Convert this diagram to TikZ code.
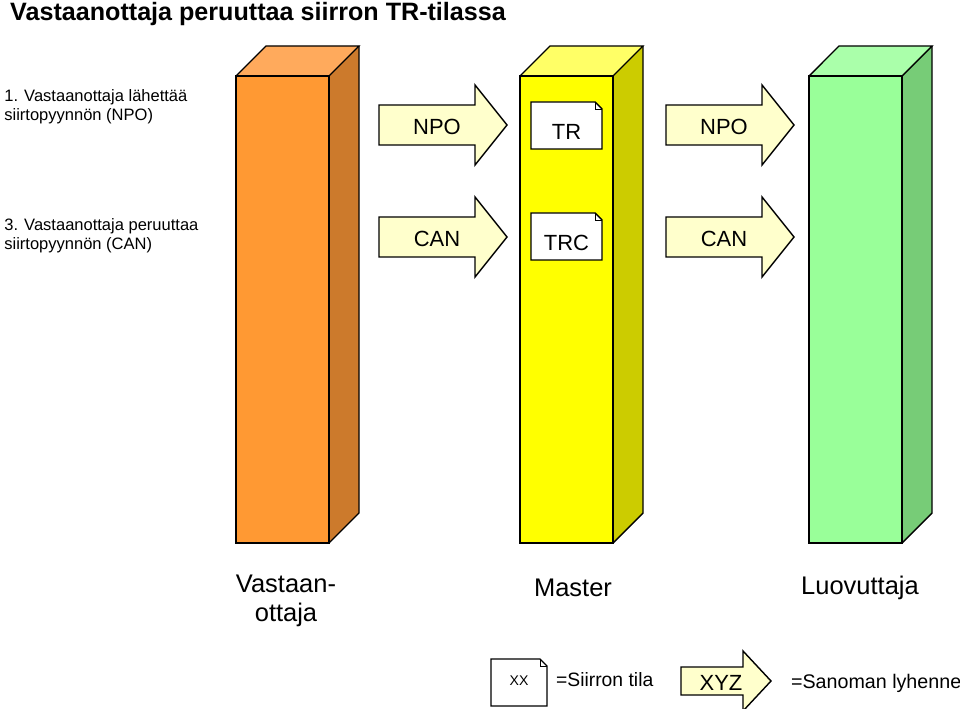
\documentclass[tikz,border=0pt]{standalone}
\usepackage{fontspec}
\setmainfont{Liberation Sans}
\definecolor{orfront}{HTML}{FF9933}
\definecolor{orside}{HTML}{CC7A2C}
\definecolor{ortop}{HTML}{FFAA5C}
\definecolor{yefront}{HTML}{FFFF00}
\definecolor{yeside}{HTML}{CCCC00}
\definecolor{yetop}{HTML}{FFFF66}
\definecolor{grfront}{HTML}{99FF99}
\definecolor{grside}{HTML}{77CC77}
\definecolor{grtop}{HTML}{AAFFAA}
\definecolor{arrfill}{HTML}{FFFFCC}
\tikzset{
  edge/.style={draw=black, line width=0.8pt, line join=miter},
  lbl/.style={font=\fontsize{12.5}{14}\selectfont},
  steptext/.style={anchor=north west, align=left, font=\fontsize{9.4}{10.9}\selectfont, inner sep=0pt},
  colname/.style={font=\fontsize{14.5}{16.5}\selectfont, align=center},
}
% column: #1 left x, #2 front, #3 side, #4 top
\newcommand{\column}[4]{
  \fill[#2] (#1,76) rectangle ++(93,467);
  \fill[#3] (#1+93,76) -- ++(30,-30) -- ++(0,467) -- ++(-30,30) -- cycle;
  \fill[#4] (#1,76) -- ++(30,-30) -- ++(93,0) -- ++(-30,30) -- cycle;
  \draw[edge] (#1,76) rectangle ++(93,467);
  \draw[edge] (#1,76) -- ++(30,-30) -- ++(93,0) -- ++(-30,30);
  \draw[edge] (#1+123,46) -- ++(0,467) -- ++(-30,30);
}
% arrow: #1 name, #2 start x, #3 centre y, #4 text
\newcommand{\msgarrow}[4]{
  \draw[edge, fill=arrfill] (#2,#3-20) -- ++(96,0) -- ++(0,-20) -- ++(32,40)
    -- ++(-32,40) -- ++(0,-20) -- ++(-96,0) -- cycle;
  \node[lbl] (#1) at (#2+58,#3+2) {#4};
}
% state box: #1 name, #2 left x, #3 top y, #4 width
\newcommand{\statebox}[4]{
  \draw[edge, fill=white] (#2,#3) -- ++(#4-7,0) -- ++(7,7) -- ++(0,40) -- ++(-#4,0) -- cycle;
  \draw[line width=0.5pt] (#2+#4-7,#3) -- ++(0,7) -- ++(7,0);
  \coordinate (#1) at (#2+#4/2,#3+25);
}
\begin{document}
\begin{tikzpicture}[x=0.02cm, y=-0.02cm]
  \useasboundingbox (0,0) rectangle (960,709);
  \node[anchor=west, font=\bfseries\fontsize{14.3}{16}\selectfont] (title) at (4,14) {Vastaanottaja peruuttaa siirron TR-tilassa};

  \column{236}{orfront}{orside}{ortop}
  \column{520}{yefront}{yeside}{yetop}
  \column{809}{grfront}{grside}{grtop}

  \node[steptext] (step1) at (4,89) {1. Vastaanottaja lähettää\\siirtopyynnön (NPO)};
  \node[steptext] (step3) at (4,218) {3. Vastaanottaja peruuttaa\\siirtopyynnön (CAN)};

  \msgarrow{npoin}{379}{125}{NPO}
  \msgarrow{npoout}{666}{125}{NPO}
  \msgarrow{canin}{379}{237}{CAN}
  \msgarrow{canout}{666}{237}{CAN}

  \statebox{tr}{531}{102}{71}
  \node[lbl] (trtext) at ([yshift=-3pt]tr) {TR};
  \statebox{trc}{531}{213}{71}
  \node[lbl] (trctext) at ([yshift=-3pt]trc) {TRC};

  \node[colname] (vast) at (286,601) {Vastaan-\\ottaja};
  \node[colname] (master) at (573,588) {Master};
  \node[colname] (luov) at (860,588) {Luovuttaja};

  % legend
  \statebox{legbox}{491}{659}{56}
  \node[font=\fontsize{8}{9}\selectfont] (xx) at ([yshift=2pt]legbox) {XX};
  \node[anchor=west, font=\fontsize{11}{12}\selectfont, inner sep=1pt] (legstate) at (554,680) {=Siirron tila};
  \draw[edge, fill=arrfill] (681,667) -- ++(62,0) -- ++(0,-16) -- ++(28,30)
    -- ++(-28,30) -- ++(0,-16) -- ++(-62,0) -- cycle;
  \node[lbl] (xyz) at (721,683) {XYZ};
  \node[anchor=west, font=\fontsize{11.2}{12}\selectfont, inner sep=1pt] (legmsg) at (789,683) {=Sanoman lyhenne};
\end{tikzpicture}
\end{document}
